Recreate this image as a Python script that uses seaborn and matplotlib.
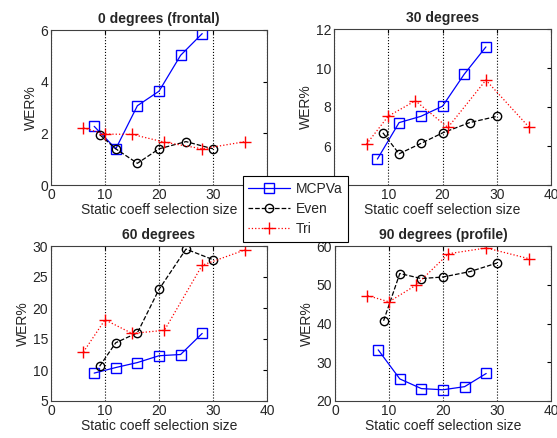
import matplotlib
matplotlib.use("Agg")
import matplotlib.pyplot as plt
import seaborn as sns

# WER% vs static coeff selection size, one panel per head pose
titles = ["0 degrees (frontal)", "30 degrees", "60 degrees", "90 degrees (profile)"]
series_names = ["MCPVa", "Even", "Tri"]

mcpva_x = [8, 12, 16, 20, 24, 28]
even_x = [9, 12, 16, 20, 25, 30]
tri_x = [6, 10, 15, 21, 28, 36]

mcpva_0 = [2.27, 1.4, 3.07, 3.63, 5.02, 5.86]
even_0 = [1.95, 1.4, 0.84, 1.4, 1.68, 1.4]
tri_0 = [2.21, 1.97, 1.96, 1.66, 1.4, 1.68]

mcpva_30 = [5.33, 7.2, 7.52, 8.04, 9.68, 11.08]
even_30 = [6.68, 5.6, 6.13, 6.67, 7.2, 7.52]
tri_30 = [6.1, 7.53, 8.32, 6.95, 9.38, 6.95]

mcpva_60 = [9.5, 10.4, 11.2, 12.3, 12.5, 15.9]
even_60 = [10.6, 14.4, 16.0, 23.0, 29.5, 27.8]
tri_60 = [12.9, 18.1, 15.9, 16.4, 26.9, 29.4]

mcpva_90 = [33.2, 25.7, 23.2, 22.9, 23.7, 27.1]
even_90 = [40.7, 52.9, 51.6, 52.0, 53.4, 55.6]
tri_90 = [47.2, 45.6, 49.9, 58.0, 59.5, 56.7]

ylims = [(0, 6), (4, 12), (5, 30), (20, 60)]
yticks = [[0, 2, 4, 6], [4, 6, 8, 10, 12], [5, 10, 15, 20, 25, 30], [20, 30, 40, 50, 60]]

panels = [
    (mcpva_0, even_0, tri_0),
    (mcpva_30, even_30, tri_30),
    (mcpva_60, even_60, tri_60),
    (mcpva_90, even_90, tri_90),
]

sns.set_style("white")
plt.rcParams["font.family"] = ["Liberation Sans", "DejaVu Sans"]
plt.rcParams["font.size"] = 9

W, H = 557, 438
fig = plt.figure(figsize=(W / 100, H / 100), dpi=100)

# axes boxes in pixels: left, top, right, bottom
boxes = [(51, 30, 267, 185), (334, 29, 551, 185), (51, 246, 267, 401), (335, 246, 551, 401)]

styles = [
    dict(color="#0000ff", linestyle="-", marker="s", markersize=7, markerfacecolor="none", markeredgecolor="#0000ff"),
    dict(color="black", linestyle="--", marker="o", markersize=6, markerfacecolor="none", markeredgecolor="black",
         dashes=(5, 4)),
    dict(color="red", linestyle=":", marker="+", markersize=8, markeredgecolor="red"),
]
xs = [mcpva_x, even_x, tri_x]

axes = []
for i, (l, t, r, b) in enumerate(boxes):
    ax = fig.add_axes([l / W, 1 - b / H, (r - l) / W, (b - t) / H])
    axes.append(ax)
    for name, x, y, st in zip(series_names, xs, panels[i], styles):
        sns.lineplot(x=x, y=y, ax=ax, label=name, linewidth=0.9, markeredgewidth=1.0, **st)
    if ax.get_legend() is not None:
        ax.get_legend().remove()
    ax.set_xlim(0, 40)
    ax.set_xticks([0, 10, 20, 30, 40])
    ax.set_ylim(*ylims[i])
    ax.set_yticks(yticks[i])
    ax.xaxis.grid(True, linestyle=":", color="black", linewidth=0.8)
    ax.yaxis.grid(False)
    ax.tick_params(direction="in", top=True, right=True, length=3, labelsize=10, pad=2, color="black")
    for sp in ax.spines.values():
        sp.set_color("#404040")
        sp.set_linewidth(0.8)
    ax.set_xlabel("Static coeff selection size", fontsize=10, labelpad=1)
    ax.set_ylabel("WER%", fontsize=10, labelpad=2)
    ax.set_title(titles[i], fontsize=10, fontweight="bold", pad=5)

handles, labels = axes[0].get_legend_handles_labels()
leg = fig.legend(handles, labels, loc="upper left", bbox_to_anchor=(242.7 / W, 1 - 176 / H),
                 borderaxespad=0, fancybox=False, framealpha=1, edgecolor="black", fontsize=10,
                 handlelength=3.0, handletextpad=0.4, borderpad=0.4, labelspacing=0.45)
leg.get_frame().set_linewidth(0.8)

fig.savefig("out.png", dpi=100)
